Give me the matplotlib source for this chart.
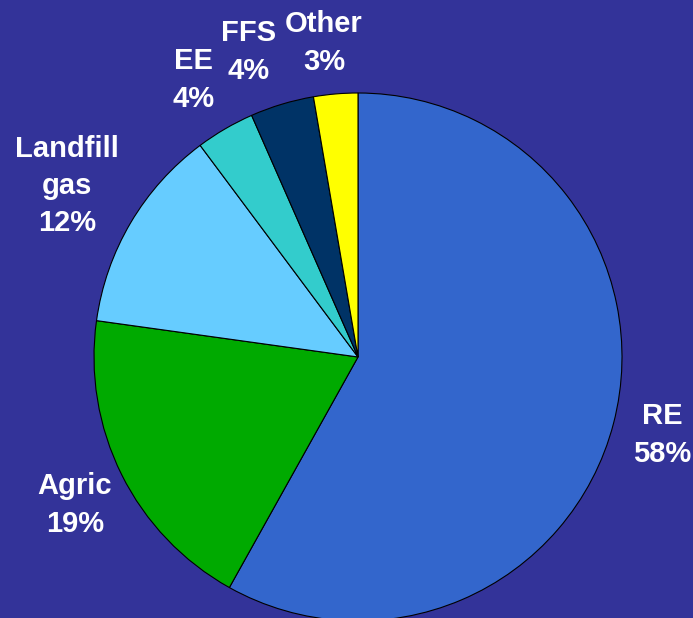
import matplotlib.pyplot as plt

# Share of projects by type
categories = ["RE", "Agric", "Landfill\ngas", "EE", "FFS", "Other"]
shares = [58.1, 19.1, 12.6, 3.6, 3.9, 2.7]
pct_labels = ["58%", "19%", "12%", "4%", "4%", "3%"]
colors = ["#3366CC", "#00AA00", "#66CCFF", "#33CCCC", "#003366", "#FFFF00"]

W, H = 693, 618
fig = plt.figure(figsize=(W / 100, H / 100), dpi=100)
fig.patch.set_facecolor("#333399")
ax = fig.add_axes([0, 0, 1, 1])

ax.pie(shares, colors=colors, startangle=90, counterclock=False,
       center=(358, H - 357), radius=264, frame=True,
       wedgeprops=dict(edgecolor="black", linewidth=0.8))
ax.set_xlim(0, W)
ax.set_ylim(0, H)
ax.set_aspect("equal")
ax.axis("off")

# label positions (pixel centres of each text block)
label_pos = [(662, 435), (75, 505), (67, 186), (194, 80), (249, 52), (324, 43)]
for cat, pct, (x, y) in zip(categories, pct_labels, label_pos):
    ax.text(x, H - y, cat + "\n" + pct, ha="center", va="center",
            color="white", fontsize=21, fontweight="bold",
            family="Liberation Sans", linespacing=1.42)

fig.savefig("out.png", dpi=100, facecolor=fig.get_facecolor())
